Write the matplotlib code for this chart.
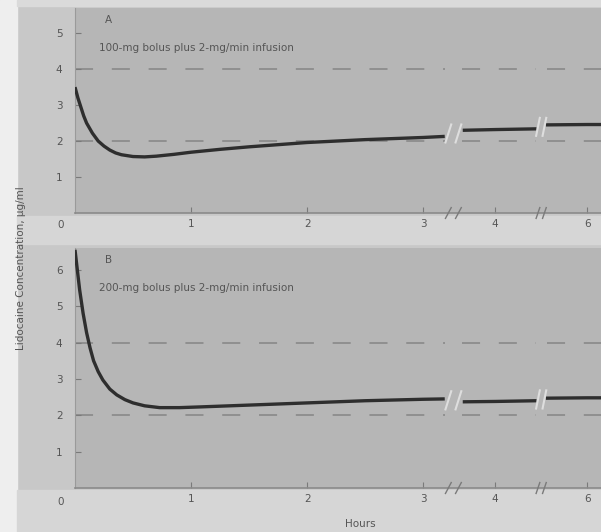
import numpy as np
import matplotlib.pyplot as plt
from matplotlib.patches import Rectangle

# hours on the x axis (axis is broken after 3 h and around 5 h)
hours_a = [0, 0.025, 0.05, 0.075, 0.1, 0.15, 0.2, 0.25, 0.3, 0.35, 0.4, 0.5, 0.6, 0.7,
           0.85, 1.0, 1.25, 1.5, 1.75, 2.0, 2.5, 3.0, 3.3,
           3.55, 4.0, 4.9, 5.1, 6.0, 6.3]
conc_a = [3.5, 3.2, 2.95, 2.7, 2.5, 2.22, 2.0, 1.86, 1.75, 1.67, 1.62, 1.57, 1.56, 1.58,
          1.63, 1.69, 1.77, 1.84, 1.9, 1.96, 2.04, 2.1, 2.13,
          2.3, 2.32, 2.34, 2.45, 2.46, 2.46]

hours_b = [0, 0.02, 0.04, 0.07, 0.1, 0.13, 0.16, 0.2, 0.24, 0.3, 0.36, 0.43, 0.5, 0.6,
           0.73, 0.9, 1.08, 1.5, 2.0, 2.5, 3.0, 3.3,
           3.55, 4.0, 4.9, 5.1, 6.0, 6.3]
conc_b = [6.55, 6.0, 5.45, 4.8, 4.27, 3.85, 3.5, 3.2, 2.97, 2.72, 2.56, 2.43, 2.34, 2.26,
          2.21, 2.21, 2.23, 2.28, 2.34, 2.4, 2.44, 2.45,
          2.37, 2.38, 2.4, 2.47, 2.48, 2.48]

ref_levels = [2, 4]
x_ticks = [1, 2, 3, 4, 6]
breaks = [3.42, 5.0]
subtitles = ["100-mg bolus plus 2-mg/min infusion", "200-mg bolus plus 2-mg/min infusion"]
panel_names = ["A", "B"]
y_ticks = [[1, 2, 3, 4, 5], [1, 2, 3, 4, 5, 6]]
y_tops = [5.7, 6.6]

# piecewise linear axis: 0-3 h full width, then compressed
knots_h = [0, 3, 4, 6, 8]
knots_u = [0, 3, 3 + 72 / 116, 3 + 164 / 116, 3 + 256 / 116]


def fwd(h):
    return np.interp(h, knots_h, knots_u)


def inv(u):
    return np.interp(u, knots_u, knots_h)


plt.rcParams["lines.scale_dashes"] = False
W, H = 601, 532
fig = plt.figure(figsize=(6.01, 5.32), dpi=100, facecolor="#d3d3d3")

# scanned page background
fig.patches.append(Rectangle((0, 0), 17 / W, 1, transform=fig.transFigure, color="#eeeeee", zorder=-5))
fig.patches.append(Rectangle((17 / W, 0), 1, 1, transform=fig.transFigure, color="#c8c8c8", zorder=-6))
fig.patches.append(Rectangle((17 / W, 1 - 216 / H - 28 / H), 1, 28 / H,
                             transform=fig.transFigure, color="#d6d6d6", zorder=-4))
fig.patches.append(Rectangle((17 / W, 0), 1, 1 - 490 / H,
                             transform=fig.transFigure, color="#d6d6d6", zorder=-4))
fig.patches.append(Rectangle((17 / W, 1 - 6 / H), 1, 6 / H,
                             transform=fig.transFigure, color="#dadada", zorder=-4))

ink = "#2e2e2e"
text_c = "#555555"
panels = [(8, 213, hours_a, conc_a), (248, 488, hours_b, conc_b)]

for i, (ytop, ybot, hrs, conc) in enumerate(panels):
    ax = fig.add_axes([75 / W, 1 - ybot / H, 1 - 75 / W, (ybot - ytop) / H])
    ax.set_facecolor("#b6b6b6")
    ax.set_xscale("function", functions=(fwd, inv))
    ax.set_xlim(0, 6.3)
    ax.set_ylim(0, y_tops[i])
    for s in ("top", "right"):
        ax.spines[s].set_visible(False)
    ax.spines["left"].set_color("#9a9a9a")
    ax.spines["bottom"].set_color("#8a8a8a")
    ax.spines["bottom"].set_linewidth(1.2)

    # dashed reference levels, interrupted at the breaks
    segs = [(0, breaks[0] - 0.12), (breaks[0] + 0.12, breaks[1] - 0.12), (breaks[1] + 0.12, 6.3)]
    for lv in ref_levels:
        for a, b in segs:
            ax.plot([a, b], [lv, lv], color="#8c8c8c", lw=1.3, dashes=(13, 13.5), zorder=1)

    # concentration curve, drawn piece by piece between breaks
    hrs = np.array(hrs)
    conc = np.array(conc)
    edges = [-1, breaks[0], breaks[1], 99]
    for k in range(3):
        m = (hrs > edges[k]) & (hrs < edges[k + 1])
        ax.plot(hrs[m], conc[m], color=ink, lw=2.4, solid_capstyle="butt",
                solid_joinstyle="round", zorder=3)

    # break marks
    for b in breaks:
        yb = np.interp(b, hrs, conc)
        for d in (-0.07, 0.07):
            ax.plot([b + d - 0.04, b + d + 0.04], [yb - 0.25, yb + 0.25], color="#dedede", lw=1.5, zorder=4)
            ax.plot([b + d - 0.04, b + d + 0.04], [-0.15, 0.15], color="#7a7a7a", lw=1.0,
                    zorder=4, clip_on=False)

    ax.set_yticks(y_ticks[i])
    ax.set_xticks(x_ticks)
    ax.tick_params(direction="in", length=4, color="#7a7a7a", labelsize=7.5, labelcolor=text_c)
    ax.tick_params(axis="y", pad=9)
    ax.tick_params(axis="x", pad=4)
    ax.text(-0.022, -0.06, "0", transform=ax.transAxes, ha="right", va="center", fontsize=7.5, color=text_c)

    ax.text(30 / 526, 1 - 12 / (ybot - ytop), panel_names[i], transform=ax.transAxes,
            fontsize=7.5, color=text_c, va="center")
    ax.text(24 / 526, 1 - 40 / (ybot - ytop), subtitles[i], transform=ax.transAxes,
            fontsize=7.5, color=text_c, va="center")

fig.text(21 / W, 1 - 268 / H, "Lidocaine Concentration, \u03bcg/ml", rotation=90,
         ha="center", va="center", fontsize=7.5, color=text_c)
fig.text(360 / W, 1 - 524 / H, "Hours", ha="center", va="center", fontsize=7.5, color=text_c)

fig.savefig("out.png", dpi=100, facecolor=fig.get_facecolor())
